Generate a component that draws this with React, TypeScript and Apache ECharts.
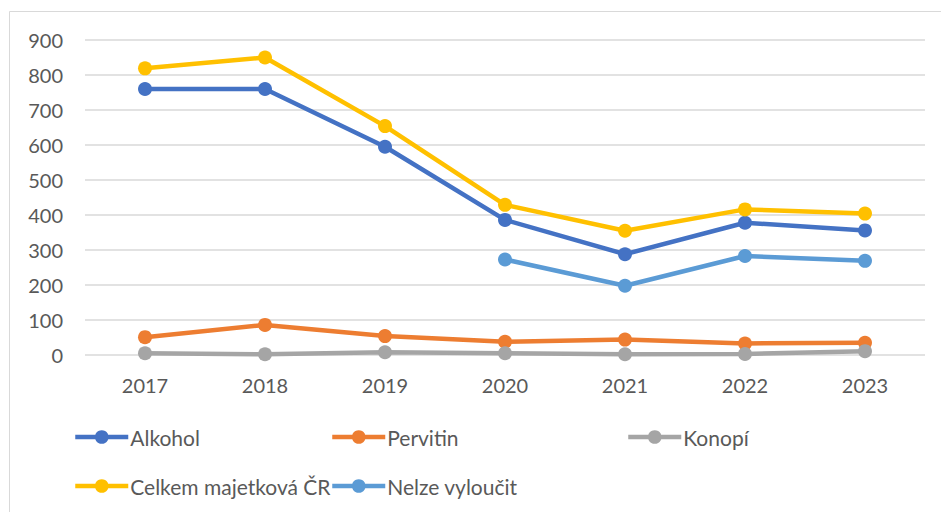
import React, { useEffect, useRef } from "react";
import * as echarts from "echarts";

const years = ["2017", "2018", "2019", "2020", "2021", "2022", "2023"];
const alkohol = [760, 760, 595, 386, 288, 378, 356];
const pervitin = [51, 86, 54, 38, 44, 33, 35];
const konopi = [5, 2, 8, 5, 2, 3, 11];
const celkem = [819, 850, 654, 429, 355, 416, 404];
const nelze = [null, null, null, 273, 198, 283, 269];
const yTicks = { min: 0, max: 900, interval: 100 };

const names = ["Alkohol", "Pervitin", "Konopí", "Celkem majetková ČR", "Nelze vyloučit"];
const colors = ["#4472C4", "#ED7D31", "#A5A5A5", "#FFC000", "#5B9BD5"];
const seriesData = [alkohol, pervitin, konopi, celkem, nelze];

const FONT = "Lato, 'Open Sans', sans-serif";

export default function App() {
  const ref = useRef<HTMLDivElement>(null);
  useEffect(() => {
    document.body.style.margin = "0";
    const chart = echarts.init(ref.current!, null, { renderer: "svg" });
    const legendBase = {
      orient: "vertical",
      top: 425,
      padding: 0,
      itemWidth: 53,
      itemHeight: 17,
      itemGap: 25,
      lineStyle: { width: 4.5 },
      textStyle: {
        fontFamily: FONT,
        fontSize: 21,
        color: "#595959",
        lineHeight: 24,
        padding: [0, 0, 0, -3],
      },
      selectedMode: false,
    };
    chart.setOption({
      animation: false,
      backgroundColor: "#fff",
      graphic: [
        {
          type: "rect",
          shape: { x: 9.5, y: 11.5, width: 960, height: 540 },
          style: { fill: "none", stroke: "#d9d9d9", lineWidth: 1 },
          silent: true,
        },
      ],
      grid: { left: 85, right: 16, top: 40, bottom: 157 },
      xAxis: {
        type: "category",
        data: years,
        boundaryGap: true,
        axisLine: { show: false },
        axisTick: { show: false },
        axisLabel: { fontFamily: FONT, fontSize: 20, color: "#595959", margin: 20 },
      },
      yAxis: {
        type: "value",
        min: yTicks.min,
        max: yTicks.max,
        interval: yTicks.interval,
        axisLine: { show: false },
        axisTick: { show: false },
        axisLabel: { fontFamily: FONT, fontSize: 20, color: "#595959", margin: 22 },
        splitLine: { lineStyle: { color: "#d9d9d9", width: 1.5 } },
      },
      legend: [
        { ...legendBase, left: 73, data: ["Alkohol", "Celkem majetková ČR"] },
        { ...legendBase, left: 330, data: ["Pervitin", "Nelze vyloučit"] },
        { ...legendBase, left: 626, data: ["Konopí"] },
      ],
      series: names.map((n, i) => ({
        name: n,
        type: "line",
        data: seriesData[i],
        color: colors[i],
        symbol: "circle",
        symbolSize: 14,
        lineStyle: { width: 4.5, color: colors[i] },
        itemStyle: { color: colors[i] },
        connectNulls: false,
        z: 2,
      })),
    });
    return () => chart.dispose();
  }, []);
  return <div ref={ref} style={{ width: 941, height: 512 }} />;
}
